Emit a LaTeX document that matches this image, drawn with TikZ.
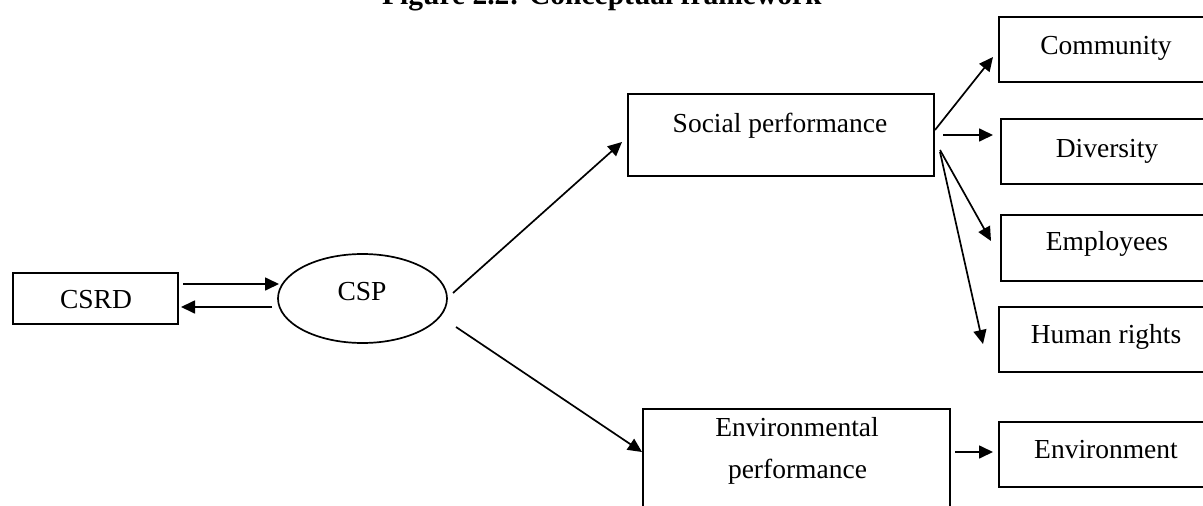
\documentclass[tikz,border=0pt]{standalone}
\usepackage{fontspec}
\setmainfont{Liberation Serif}
\usetikzlibrary{arrows.meta,shapes.geometric}
\begin{document}
\begin{tikzpicture}[x=1pt,y=-1pt,
  boxline/.style={draw=black,line width=1.7pt,inner sep=0pt},
  lbl/.style={anchor=base,inner sep=0pt,font=\fontsize{27.5}{33}\selectfont},
  conn/.style={line width=1.7pt,-{Triangle[length=14pt,width=13pt]}}]
\useasboundingbox (0,0) rectangle (1203,506);
\clip (0,0) rectangle (1203,506);
% title
\node[anchor=base west,inner sep=0pt,font=\fontsize{29.5}{35}\selectfont\bfseries] (title) at (382,5) {Figure 2.2: Conceptual framework};
% boxes
\node[boxline,minimum width=165pt,minimum height=51pt] (csrd) at (95.5,298.5) {};
\node[boxline,ellipse,minimum width=169pt,minimum height=89pt] (csp) at (362.5,298.5) {};
\node[boxline,minimum width=306pt,minimum height=82pt] (soc) at (781,135) {};
\node[boxline,minimum width=307pt,minimum height=120pt] (env) at (796.5,469) {};
\node[boxline,minimum width=216pt,minimum height=65pt] (com) at (1107,49.5) {};
\node[boxline,minimum width=214pt,minimum height=65pt] (div) at (1108,151.5) {};
\node[boxline,minimum width=214pt,minimum height=66pt] (emp) at (1108,248) {};
\node[boxline,minimum width=216pt,minimum height=65pt] (hum) at (1107,339.5) {};
\node[boxline,minimum width=216pt,minimum height=65pt] (envt) at (1107,454.5) {};
% labels
\node[lbl] (tcsrd) at (96,308) {CSRD};
\node[lbl] (tcsp) at (362,300) {CSP};
\node[lbl] (tsoc) at (780,132) {Social performance};
\node[lbl] (tenv1) at (797,436) {Environmental};
\node[lbl] (tenv2) at (797.5,478) {performance};
\node[lbl] (tcom) at (1106,54) {Community};
\node[lbl] (tdiv) at (1107,157) {Diversity};
\node[lbl] (temp) at (1107,250) {Employees};
\node[lbl] (thum) at (1106,343) {Human rights};
\node[lbl] (tenvt) at (1106,458) {Environment};
% connector end points
\coordinate (a1s) at (183,284); \coordinate (a1e) at (279,284);
\coordinate (a2s) at (272,307); \coordinate (a2e) at (181,307);
\coordinate (b1s) at (453,293); \coordinate (b1e) at (622,142);
\coordinate (b2s) at (456,327); \coordinate (b2e) at (642,452);
\coordinate (c1s) at (935,130); \coordinate (c1e) at (993,57);
\coordinate (c2s) at (943,135); \coordinate (c2e) at (993,135);
\coordinate (c3s) at (940,150); \coordinate (c3e) at (991,241);
\coordinate (c4s) at (940,152); \coordinate (c4e) at (983,344);
\coordinate (d1s) at (955,452); \coordinate (d1e) at (993,452);
\draw[conn] (a1s) -- (a1e);
\draw[conn] (a2s) -- (a2e);
\draw[conn] (b1s) -- (b1e);
\draw[conn] (b2s) -- (b2e);
\draw[conn] (c1s) -- (c1e);
\draw[conn] (c2s) -- (c2e);
\draw[conn] (c3s) -- (c3e);
\draw[conn] (c4s) -- (c4e);
\draw[conn] (d1s) -- (d1e);
\end{tikzpicture}
\end{document}
